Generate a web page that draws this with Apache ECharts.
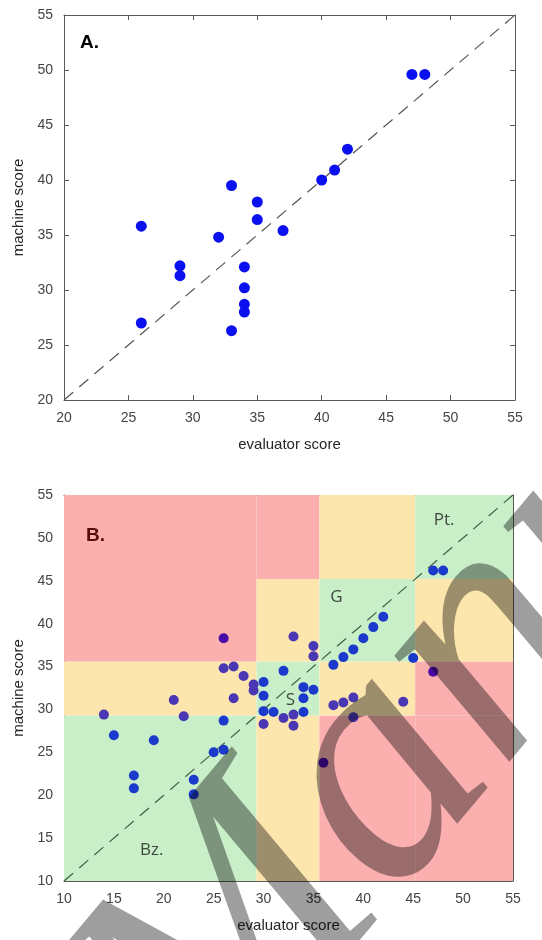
<!DOCTYPE html>
<html><head><meta charset="utf-8">
<script src="https://cdn.jsdelivr.net/npm/echarts@6/dist/echarts.min.js"></script>
<style>html,body{margin:0;padding:0;background:#fff}#c{width:542px;height:940px}</style>
</head><body><div id="c"></div>
<script>
// ---------- Panel A data ----------
const aEvaluator = [26, 26, 29, 29, 32, 33, 33, 34, 34, 34, 34, 35, 35, 37, 40, 41, 42, 47, 48];
const aMachine   = [35.8, 27.0, 32.2, 31.3, 34.8, 39.5, 26.3, 32.1, 30.2, 28.7, 28.0, 38.0, 36.4, 35.4, 40.0, 40.9, 42.8, 49.6, 49.6];

// ---------- Panel B data ----------
const bBlueEvaluator = [15, 17, 17, 19, 23, 23, 25, 26, 26, 30, 30, 30, 31, 32, 34, 34, 34, 35, 37, 38, 39, 40, 41, 42, 45, 47, 48];
const bBlueMachine   = [27.0, 22.3, 20.8, 26.4, 21.8, 20.1, 25.0, 25.3, 28.7, 33.2, 31.6, 29.8, 29.7, 34.5, 32.6, 31.3, 29.7, 32.3, 35.2, 36.1, 37.0, 38.3, 39.6, 40.8, 36.0, 46.2, 46.2];
const bPurpleEvaluator = [14, 21, 22, 26, 27, 27, 28, 29, 29, 30, 32, 33, 33, 33, 35, 35, 37, 38, 39, 39, 44];
const bPurpleMachine   = [29.4, 31.1, 29.2, 34.8, 35.0, 31.3, 33.9, 32.9, 32.2, 28.3, 29.0, 38.5, 29.4, 28.1, 37.4, 36.2, 30.5, 30.8, 31.4, 29.1, 30.9];
const bDarkEvaluator = [26, 36, 47];
const bDarkMachine   = [38.3, 23.8, 34.4];

// category boundaries (Bz., S, G, Pt.)
const bounds = [10, 29.3, 35.6, 45.2, 55];
const regionNames = ['Bz.', 'S', 'G', 'Pt.'];
const regionLabelX = [18.8, 32.7, 37.3, 48.1];
const regionLabelY = [13.6, 31.1, 43.1, 52.1];

const ticksA = [20, 25, 30, 35, 40, 45, 50, 55];
const ticksB = [10, 15, 20, 25, 30, 35, 40, 45, 50, 55];
const diagA = [20, 55];
const diagB = [10, 55];

const FONT = '"Liberation Sans", Arial, sans-serif';
const regionColors = ['#c8efc8', '#fde6ad', '#fbafaf'];

function zip(xs, ys) { return xs.map((x, i) => [x, ys[i]]); }

const areas = [];
for (let i = 0; i < 4; i++) {
  for (let j = 0; j < 4; j++) {
    const d = Math.min(Math.abs(i - j), 2);
    areas.push([
      { coord: [bounds[i], bounds[j]], itemStyle: { color: regionColors[d], opacity: 1 } },
      { coord: [bounds[i + 1], bounds[j + 1]] }
    ]);
  }
}

function xAx(grid, ticks, bottom) {
  return {
    type: 'value', gridIndex: grid, min: ticks[0], max: ticks[ticks.length - 1], interval: 5,
    position: bottom ? 'bottom' : 'top',
    name: bottom ? 'evaluator score' : '', nameLocation: 'middle', nameGap: 37,
    nameTextStyle: { fontFamily: FONT, fontSize: 15, color: '#262626' },
    axisLine: { show: true, onZero: false, lineStyle: { color: '#5a5a5a', width: 1 } },
    axisTick: { show: true, inside: true, length: 5, lineStyle: { color: '#5a5a5a' } },
    axisLabel: { show: bottom, margin: 11, fontFamily: FONT, fontSize: 14, color: '#444' },
    splitLine: { show: false }
  };
}
function yAx(grid, ticks, left) {
  return {
    type: 'value', gridIndex: grid, min: ticks[0], max: ticks[ticks.length - 1], interval: 5,
    position: left ? 'left' : 'right',
    name: left ? 'machine score' : '', nameLocation: 'middle', nameGap: 36,
    nameTextStyle: { fontFamily: FONT, fontSize: 15, color: '#262626' },
    axisLine: { show: true, onZero: false, lineStyle: { color: '#5a5a5a', width: 1 } },
    axisTick: { show: true, inside: true, length: 5, lineStyle: { color: '#5a5a5a' } },
    axisLabel: { show: left, margin: 11, fontFamily: FONT, fontSize: 14, color: '#444' },
    splitLine: { show: false }
  };
}

const pointStyle = (c) => ({ color: c, opacity: 1 });

const chart = echarts.init(document.getElementById('c'), null, { renderer: 'canvas' });
chart.setOption({
  animation: false,
  backgroundColor: '#fff',
  grid: [
    { left: 64, top: 15, width: 451, height: 385 },
    { left: 64, top: 495, width: 449, height: 386 }
  ],
  xAxis: [xAx(0, ticksA, true), xAx(0, ticksA, false), xAx(1, ticksB, true), xAx(1, ticksB, false)],
  yAxis: [yAx(0, ticksA, true), yAx(0, ticksA, false), yAx(1, ticksB, true), yAx(1, ticksB, false)],
  graphic: [
    { type: 'text', left: 80, top: 33, z: 10,
      style: { text: 'A.', font: 'bold 19px ' + FONT, fill: '#000' } },
    { type: 'text', left: 86, top: 526, z: 10,
      style: { text: 'B.', font: 'bold 19px ' + FONT, fill: '#5a0c0c' } },
    { type: 'text', x: 272, y: 1170, rotation: 50 * Math.PI / 180, z: 100, silent: true,
      style: { text: 'Manuscript', font: 'italic 340px "Liberation Serif", serif', fill: 'rgba(0,0,0,0.38)', align: 'left', verticalAlign: 'bottom' } }
  ],
  series: [
    { type: 'line', xAxisIndex: 0, yAxisIndex: 0, data: zip(diagA, diagA), symbol: 'none', silent: true,
      lineStyle: { color: '#555', width: 1.2, type: [12, 8] }, z: 2 },
    { type: 'scatter', xAxisIndex: 0, yAxisIndex: 0, data: zip(aEvaluator, aMachine), symbolSize: 11,
      itemStyle: pointStyle('#0a10f0'), z: 3 },
    { type: 'line', xAxisIndex: 2, yAxisIndex: 2, data: zip(diagB, diagB), symbol: 'none', silent: true,
      lineStyle: { color: 'rgba(40,70,40,0.85)', width: 1.2, type: [12, 8] }, z: 2,
      markArea: { silent: true, data: areas, z: 1 } },
    { type: 'scatter', xAxisIndex: 2, yAxisIndex: 2, data: zip(bBlueEvaluator, bBlueMachine), symbolSize: 10,
      itemStyle: pointStyle('#1b3acb'), z: 3 },
    { type: 'scatter', xAxisIndex: 2, yAxisIndex: 2, data: zip(bPurpleEvaluator, bPurpleMachine), symbolSize: 10,
      itemStyle: pointStyle('#4a37b4'), z: 3 },
    { type: 'scatter', xAxisIndex: 2, yAxisIndex: 2, data: zip(bDarkEvaluator, bDarkMachine), symbolSize: 10,
      itemStyle: pointStyle('#4a0aa6'), z: 3 },
    { type: 'scatter', xAxisIndex: 2, yAxisIndex: 2, symbolSize: 0, silent: true, z: 4,
      data: regionNames.map((n, i) => ({ name: n, value: [regionLabelX[i], regionLabelY[i]] })),
      label: { show: true, position: 'inside', formatter: '{b}', fontFamily: '"Open Sans", "Noto Sans", sans-serif', fontSize: 17, color: '#1a1a1a' } }
  ]
});
</script>
</body></html>
